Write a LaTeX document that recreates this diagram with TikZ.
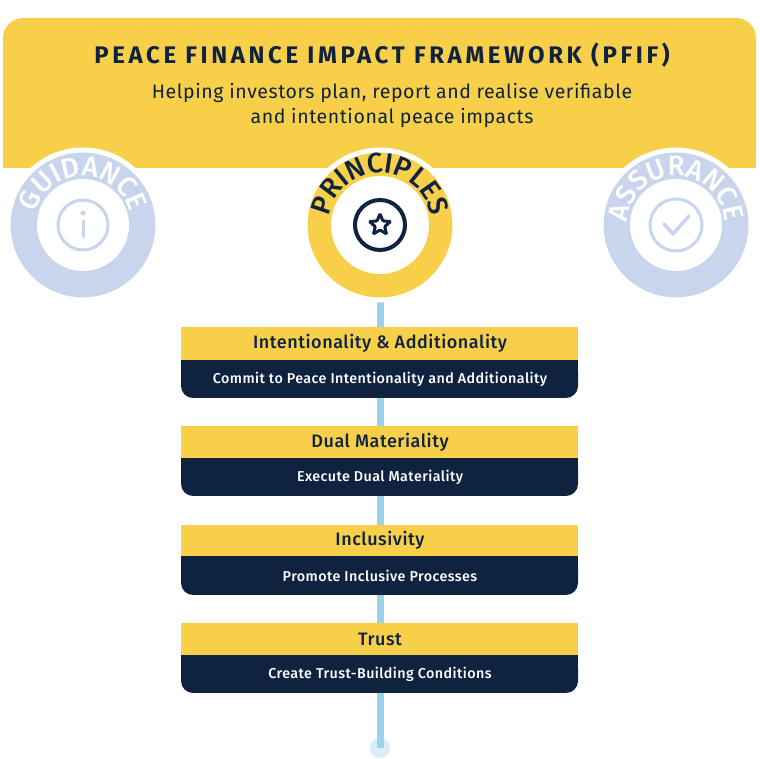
\documentclass[tikz,border=0pt]{standalone}
\usepackage{fontspec}
\setmainfont{Fira Sans}
\newfontfamily\medfont{Fira Sans Medium}
\usetikzlibrary{positioning, shapes.geometric, decorations.text}
\definecolor{pfyellow}{HTML}{F7CF48}
\definecolor{pfnavy}{HTML}{0F2340}
\definecolor{pfblue}{HTML}{C8D5EC}
\definecolor{pfline}{HTML}{9DD3EA}

\begin{document}
\begin{tikzpicture}[x=1pt, y=1pt]
  \newcommand\boxl{181}
  \newcommand\boxr{578}
  \newcommand\ringr{75}

  \tikzset{head/.style={font=\medfont\fontsize{18}{20}\selectfont\addfontfeature{LetterSpace=3}, text=pfnavy}}
  \tikzset{sub/.style={font=\medfont\fontsize{14.3}{16}\selectfont\addfontfeature{LetterSpace=3}, text=white}}
  \tikzset{arctext/.style={decorate, decoration={text along path, text align=center, text color=#1}}}

  \useasboundingbox (0,0) rectangle (760,759);

  % header
  \fill[pfyellow, rounded corners=20] (3,591) -- (3,741) -- (756,741) -- (756,591) -- cycle;
  \fill[pfyellow] (3,591) rectangle (756,620);
  \node[font=\fontsize{24}{26}\selectfont\bfseries\addfontfeature{LetterSpace=15}, text=pfnavy] (title) at (382,704) {PEACE FINANCE IMPACT FRAMEWORK (PFIF)};
  \node[font=\fontsize{19.5}{25}\selectfont\addfontfeature{LetterSpace=3}, text=pfnavy, align=center] (subtitle) at (392,654)
    {Helping investors plan, report and realise verifiable\\and intentional peace impacts};

  % spine
  \coordinate (spinetop) at (380,459);
  \node[circle, fill=pfline!40, minimum size=20] (spineend) at (380,11) {};
  \draw[pfline, line width=7] (spinetop) -- (spineend.center);

  % circles
  \foreach \name/\x/\col in {guidance/83/pfblue, principles/380/pfyellow, assurance/676/pfblue}{
    \node[circle, fill=\col, draw=white, line width=5, minimum size=2*\ringr] (\name) at (\x,534) {};
    \node[circle, fill=white, minimum size=92] (\name-in) at (\name) {};
  }
  \node[circle, fill=white, minimum size=98] at (principles) {};
  \path[arctext=white, decoration={text={|\medfont\fontsize{28}{28}\selectfont|GUIDANCE}}]
    (guidance) ++(190:49) arc[start angle=190, end angle=-10, radius=49];
  \path[arctext=pfnavy, decoration={text={|\medfont\fontsize{28}{28}\selectfont|PRINCIPLES}}]
    (principles) ++(192:52) arc[start angle=192, end angle=-12, radius=52];
  \path[arctext=white, decoration={text={|\medfont\fontsize{28}{28}\selectfont|ASSURANCE}}]
    (assurance) ++(190:49) arc[start angle=190, end angle=-10, radius=49];

  % icons
  \node[circle, draw=pfblue, line width=3, minimum size=50] (info) at (guidance) {};
  \draw[pfblue, line width=3, line cap=round] ([yshift=-12]info.center) -- ([yshift=4]info.center);
  \fill[pfblue] ([yshift=12]info.center) circle (2.5);
  \node[circle, draw=pfnavy, line width=4, minimum size=50] (staricon) at (principles) {};
  \node[star, star points=5, star point ratio=2.2, draw=pfnavy, line width=3, minimum size=22, rounded corners=1] at (staricon) {};
  \node[circle, draw=pfblue, line width=3, minimum size=52] (check) at (assurance) {};
  \draw[pfblue, line width=3.5, line cap=round, line join=round]
    ([shift={(-12,1)}]check.center) -- ([shift={(-3,-9)}]check.center) -- ([shift={(13,9)}]check.center);

  % principle boxes
  \foreach \i/\top/\mid/\bot/\hd/\tx in {
    1/432/399/361/{Intentionality \& Additionality}/{Commit to Peace Intentionality and Additionality},
    2/333/301/263/{Dual Materiality}/{Execute Dual Materiality},
    3/234/203/164/{Inclusivity}/{Promote Inclusive Processes},
    4/136/104/66/{Trust}/{Create Trust-Building Conditions}}{
    \fill[pfnavy, rounded corners=12] (\boxl,\mid) -- (\boxl,\bot) -- (\boxr,\bot) -- (\boxr,\mid) -- cycle;
    \fill[pfnavy] (\boxl,\mid) rectangle (\boxr,\mid-15);
    \fill[pfyellow] (\boxl,\top) rectangle (\boxr,\mid);
    \node[head] (head\i) at (380,{(\top+\mid)/2}) {\hd};
    \node[sub] (sub\i) at (380,{(\mid+\bot)/2}) {\tx};
  }
\end{tikzpicture}
\end{document}
